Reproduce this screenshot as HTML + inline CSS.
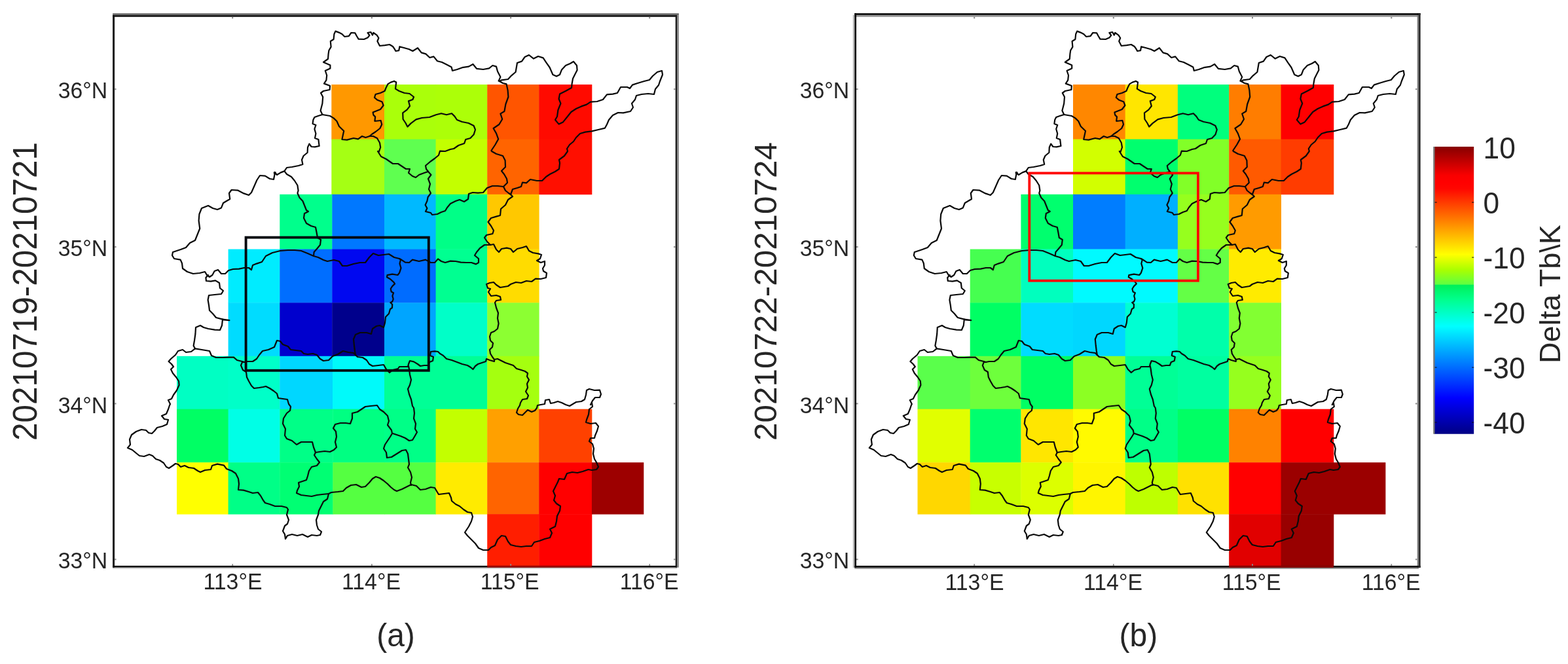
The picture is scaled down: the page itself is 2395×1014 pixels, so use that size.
<!DOCTYPE html>
<html lang="en">
<head>
<meta charset="utf-8">
<title>Delta Tb maps</title>
<style>
html,body{margin:0;padding:0;background:#fff;}
body{width:2395px;height:1014px;overflow:hidden;}
svg{display:block;filter:blur(0.45px);}
text{font-family:'Liberation Sans', Arial, Helvetica, sans-serif;fill:#262626;}
.bd{fill:none;stroke:#0a0a0a;stroke-width:2.2;stroke-linejoin:round;stroke-linecap:round;}
</style>
</head>
<body>
<svg width="2395" height="1014" viewBox="0 0 2395 1014">
<rect width="2395" height="1014" fill="#fff"/>
<defs>
<linearGradient id="cb" x1="0" y1="0" x2="0" y2="1">
<stop offset="0.0000" stop-color="#860000"/>
<stop offset="0.1003" stop-color="#fa0000"/>
<stop offset="0.1249" stop-color="#ff0000"/>
<stop offset="0.1459" stop-color="#ff0600"/>
<stop offset="0.3750" stop-color="#ffff00"/>
<stop offset="0.4285" stop-color="#aaff00"/>
<stop offset="0.4791" stop-color="#5fff41"/>
<stop offset="0.4819" stop-color="#00f058"/>
<stop offset="0.5311" stop-color="#00ff8c"/>
<stop offset="0.6250" stop-color="#00ffff"/>
<stop offset="0.8751" stop-color="#0000ff"/>
<stop offset="1.0000" stop-color="#000084"/>
</linearGradient>
<clipPath id="clipL"><rect x="173.5" y="23.5" width="860.5" height="842"/></clipPath>
<clipPath id="clipR"><rect x="1306.3" y="23.5" width="861" height="842"/></clipPath>
<g id="bnd" class="bd">
<path d="M373.0 409.0 L365.0 410.6 L356.0 411.0 L349.0 413.0 L344.0 418.0 L338.0 418.0 L333.0 412.0 L327.6 414.0 L324.4 420.0 L320.0 423.0 L316.0 420.0 L313.0 415.0 L305.0 417.0 L295.0 418.0 L286.0 415.0 L279.0 410.0 L278.0 402.0 L275.6 396.6 L266.0 395.0 L263.0 390.0 L264.0 385.0 L276.0 381.0 L284.0 378.0 L290.0 371.0 L298.0 367.0 L301.2 359.0 L305.2 349.0 L303.6 337.0 L304.4 327.0 L308.0 318.0 L318.0 314.0 L325.0 318.0 L332.0 320.0 L338.0 317.4 L341.0 310.0 L346.0 307.0 L351.2 304.0 L350.0 295.0 L353.6 290.0 L363.0 290.6 L372.4 295.4 L380.0 298.0 L384.0 294.0 L388.0 285.0 L392.4 275.0 L397.0 268.0 L405.0 268.6 L412.0 273.0 L418.0 274.0 L420.0 264.0 L423.0 267.0 L429.0 263.4 L434.4 261.4 L438.0 256.0 L446.0 255.0 L456.0 253.0 L462.4 251.0 L461.0 244.0 L463.6 238.0 L469.6 233.0 L470.0 225.0 L472.4 219.6 L475.6 224.0 L481.0 224.4 L487.6 223.0 L486.4 213.0 L481.0 211.0 L482.4 204.0 L480.4 197.0 L482.4 191.0 L477.6 189.0 L478.4 183.0 L480.4 179.0 L486.0 177.0 L492.4 175.0"/>
<path d="M492.4 175.0 L489.6 169.0 L492.4 158.0 L493.2 148.0 L490.0 142.0 L494.0 139.0 L503.6 137.0 L504.0 131.0 L495.0 127.6 L498.4 122.4 L499.2 115.0 L496.8 108.0 L504.4 104.4 L504.4 99.6 L494.0 95.0 L501.0 90.0 L501.6 82.4 L502.4 77.0 L505.6 71.6 L504.8 63.0 L509.6 60.0 L510.4 52.0 L512.4 47.6 L517.6 49.6 L522.4 52.0 L526.4 56.0 L532.8 55.2 L536.4 50.0 L542.4 50.4 L544.8 55.0 L547.6 59.6 L556.0 60.0 L561.6 57.6 L564.4 54.0 L561.6 50.0 L566.4 49.0 L569.0 53.6 L570.4 50.0 L575.6 53.6 L578.4 58.0 L576.4 63.0 L580.0 70.0 L588.0 69.2 L595.0 68.0 L600.0 71.0 L602.4 74.4 L604.4 78.0 L609.2 77.2 L610.4 71.2 L617.0 73.0 L625.0 75.2 L630.4 78.0 L638.0 73.2 L641.0 77.0 L643.6 80.4 L650.4 82.4 L656.4 88.0 L662.4 86.4 L668.0 93.2 L675.0 95.0 L683.0 99.0 L689.6 102.4 L691.0 108.0 L698.4 106.0 L706.0 103.2 L716.0 101.6 L722.4 98.0 L728.0 104.8 L738.0 106.0 L747.0 104.4 L752.4 100.0 L758.0 101.6 L760.0 109.0 L764.4 117.6 L761.6 123.6 L763.0 124.0"/>
<path d="M763.0 124.0 L766.0 122.4 L776.0 121.0 L781.0 115.6 L787.6 110.0 L790.0 96.0 L797.0 93.6 L801.6 87.0 L808.0 84.0 L815.0 89.6 L822.0 86.0 L829.6 88.4 L834.4 95.6 L839.6 103.0 L844.4 114.0 L850.0 116.4 L855.0 114.0 L858.0 106.4 L864.0 100.0 L871.0 97.0 L876.0 94.0 L881.0 100.0 L881.6 107.0 L878.0 114.0 L875.0 120.0 L873.6 128.0 L873.0 134.0 L864.0 139.0 L855.0 143.6 L853.6 151.0 L856.4 158.0 L852.4 168.0 L851.0 178.0 L848.0 183.0 L853.6 189.6 L860.0 186.4 L866.0 179.0 L872.4 171.0 L880.0 166.0 L888.0 162.4 L896.0 159.6 L902.0 155.6 L912.0 155.0 L921.0 152.0 L927.0 144.4 L936.0 143.6 L943.0 142.0 L948.0 133.0 L958.0 133.0 L962.0 135.0 L966.0 129.6 L974.0 127.0 L984.0 124.0 L992.0 122.0 L997.0 116.0 L1004.0 110.0 L1011.0 108.0 L1012.0 114.0 L1008.0 124.0 L1006.0 130.0 L1001.0 136.0 L999.0 144.0 L990.0 143.0 L980.0 144.0 L972.0 146.0 L970.0 152.0 L965.0 158.0 L967.0 164.0 L963.0 170.0 L952.0 172.4 L944.0 172.0 L936.0 176.0 L930.0 183.0 L927.0 190.0 L924.0 195.6 L914.0 198.0 L904.0 200.4 L894.0 201.6 L886.0 204.0 L880.0 210.0 L876.0 216.0 L870.0 221.0 L866.0 227.0 L867.0 231.0 L862.0 238.0 L854.0 244.0 L855.0 249.0 L854.0 258.0 L848.0 262.0 L840.0 266.0 L834.0 270.0 L828.0 276.0 L820.0 276.0 L810.0 274.0 L804.0 279.4 L798.0 278.6 L796.0 285.0 L790.0 287.0 L783.0 289.0 L780.0 297.0"/>
<path d="M763.0 124.0 L768.0 127.0 L773.6 128.4 L775.6 138.0 L776.4 148.0 L772.4 159.0 L770.4 170.0 L764.4 173.6 L767.2 182.0 L762.4 190.0 L753.6 196.0 L758.0 203.6 L761.2 212.4 L756.4 221.0 L750.4 230.0 L751.0 231.0 L758.0 235.0 L768.0 238.0 L771.6 245.0 L772.0 255.0 L766.0 261.0 L770.0 266.0 L774.0 273.0 L775.0 279.0 L770.0 284.0 L769.0 285.0"/>
<path d="M602.0 124.0 L597.0 125.6 L592.4 128.4 L589.6 134.0 L587.6 139.0 L581.0 142.0 L573.6 144.0 L572.0 149.0 L576.0 152.4 L583.6 155.6 L585.6 161.0 L581.0 167.0 L569.6 171.6 L570.4 175.6 L573.2 178.4 L572.4 185.0 L581.6 184.0 L583.2 190.0 L580.4 196.0 L574.0 201.0 L568.0 205.0 L564.4 208.0"/>
<path d="M602.0 124.0 L605.2 125.6 L604.0 135.6 L609.6 139.0 L617.6 142.0 L625.6 143.0 L632.0 148.0 L630.4 152.0 L624.0 154.4 L626.0 162.0 L621.6 167.6 L615.2 172.4 L615.6 182.0 L619.6 188.0 L622.4 193.6 L627.6 188.4 L635.6 182.4 L644.4 180.0 L656.0 179.0 L666.0 175.2 L674.0 173.2 L682.0 175.2 L690.0 173.2 L694.4 177.6 L698.0 183.0 L705.6 186.0 L715.6 188.0 L723.6 192.0 L726.0 198.0 L723.6 205.6 L718.4 211.0 L711.2 213.0 L709.2 219.0 L700.4 222.0 L693.2 227.0 L688.0 228.0 L680.0 231.0 L672.0 230.6 L670.0 237.0 L664.0 242.0 L657.0 247.0 L650.0 253.0 L651.0 258.0 L654.0 262.0"/>
<path d="M492.4 175.0 L504.0 177.0 L509.6 180.4 L514.4 185.0 L518.0 193.0 L525.2 200.0 L522.4 213.0 L530.0 213.6 L540.0 211.0 L547.0 212.4 L553.0 208.0 L558.4 210.0 L564.4 208.0 L570.0 208.0 L576.0 211.0 L580.0 218.0 L581.2 225.0 L578.4 232.8 L577.0 231.0 L582.0 239.0 L590.0 243.0 L600.0 250.0 L608.0 250.0 L614.0 254.0 L620.0 258.0 L626.0 258.0 L624.0 264.0 L630.0 269.0 L635.0 271.0 L640.0 267.0 L648.0 264.0 L654.0 262.0"/>
<path d="M654.0 262.0 L658.4 267.0 L654.0 273.0 L657.0 281.0 L655.0 289.0 L658.0 295.0 L653.6 301.0 L652.4 307.0 L649.6 313.0 L652.4 318.0 L650.0 323.0 L658.0 325.0 L660.0 328.0 L668.0 327.0 L674.0 324.0 L680.0 322.0 L683.0 317.0 L688.0 311.0 L696.0 307.0 L702.0 305.0 L709.0 308.0 L715.0 304.0 L716.0 296.0 L722.0 294.0 L730.0 294.6 L738.0 294.0 L744.0 287.0 L752.0 284.0 L760.0 284.0 L769.0 285.0 L772.0 291.0 L777.0 295.0 L780.0 297.0"/>
<path d="M780.0 297.0 L783.0 300.0 L776.0 305.0 L772.0 313.0 L765.0 319.0 L764.0 329.0 L758.0 330.6 L750.0 333.0 L745.6 339.0 L750.0 345.0 L754.0 352.0 L752.4 357.0 L743.0 359.0 L740.0 363.0 L744.0 369.0 L749.0 374.0"/>
<path d="M373.0 409.0 L380.0 409.0 L384.0 412.0 L386.0 405.0 L392.0 402.6 L400.0 400.0 L406.0 391.0 L416.0 386.0 L428.0 383.0 L440.0 382.0 L450.0 382.0 L460.0 383.0 L470.0 387.0 L479.0 391.0 L486.0 393.0 L494.0 397.0 L500.0 399.0 L510.0 397.0 L518.0 399.0 L523.0 406.0 L530.0 406.0 L540.0 403.0 L550.0 401.0 L558.0 401.0 L564.0 393.0 L570.0 387.0 L578.0 390.0 L586.0 389.0 L594.0 388.0 L602.0 393.0 L610.0 395.0 L612.0 396.0 L619.0 400.6 L625.0 401.0 L630.0 396.6 L640.0 399.0 L650.0 396.6 L658.0 401.0 L664.0 401.0 L669.0 395.4 L674.0 399.0 L680.0 401.0 L688.0 398.6 L696.0 399.0 L704.0 400.6 L712.0 401.0 L720.0 401.0 L727.0 403.4 L731.0 401.0 L731.0 395.0 L725.0 390.0 L728.0 385.0 L733.0 379.0 L740.0 374.0 L749.0 374.0"/>
<path d="M434.4 261.4 L438.0 266.0 L445.0 270.0 L450.0 276.0 L454.4 283.0 L455.6 291.0 L454.4 295.0 L457.6 302.0 L462.4 307.0 L465.6 315.0 L468.0 321.0 L471.0 323.0 L465.0 326.0 L464.0 333.0 L468.0 341.0 L475.0 345.0 L482.0 347.0 L483.6 355.0 L485.0 363.0 L490.0 366.0 L489.0 374.0 L484.0 380.0 L479.6 385.0 L479.0 391.0"/>
<path d="M749.0 374.0 L754.0 373.0 L758.0 381.0 L762.0 385.0 L766.0 380.0 L774.0 378.6 L780.0 380.0 L784.0 385.0 L790.0 380.0 L798.0 378.0 L804.0 376.0 L808.0 383.0 L814.0 386.0 L822.0 387.4 L827.0 389.0 L825.0 395.0 L820.0 398.0 L826.0 401.0 L832.0 399.0 L832.0 405.0 L829.0 410.0 L830.0 414.0 L835.0 417.0 L834.0 424.0 L826.0 426.0 L818.0 425.6 L812.0 430.0 L804.0 429.0 L796.0 432.0 L788.0 431.0 L780.0 434.0 L776.0 437.0 L770.0 438.0 L764.0 439.0 L758.0 435.0 L754.0 431.0 L748.0 432.0 L743.0 434.0 L745.0 440.0 L749.0 441.0 L746.0 446.0 L750.0 452.0 L758.0 451.0 L764.0 453.0 L765.0 458.0 L758.0 459.0 L756.0 462.0 L758.0 470.0 L761.0 478.0 L760.0 486.0 L761.6 494.0 L760.0 502.0 L755.0 506.0 L750.0 508.0 L748.0 514.0 L749.0 520.0 L753.0 524.0 L752.0 530.0 L748.0 534.0 L749.0 540.0 L752.0 545.0 L755.0 549.0"/>
<path d="M610.0 395.0 L612.0 396.6 L610.5 402.5 L612.5 409.4 L610.0 416.8 L607.5 420.0 L599.2 418.6 L591.5 420.2 L591.0 423.3 L596.2 426.2 L601.6 431.1 L603.0 433.4 L599.2 437.1 L596.7 441.0 L597.7 445.6 L601.1 447.2 L599.4 451.9 L600.7 456.8 L599.2 460.7 L596.4 462.0 L599.2 464.7 L599.0 470.0 L596.0 472.0 L594.0 479.0 L589.0 484.0 L588.0 493.0 L586.0 500.0 L580.0 497.0 L575.0 498.0 L569.0 502.0 L567.0 510.0 L560.0 508.0 L550.0 508.0 L543.0 511.0 L540.0 518.0 L541.0 528.0 L542.0 536.0 L543.0 542.0"/>
<path d="M316.0 420.0 L318.0 420.0 L314.4 424.0 L315.0 429.0 L322.0 429.6 L329.0 428.4 L335.0 432.0 L336.0 440.0 L341.0 444.0 L338.0 449.0 L328.0 450.0 L319.0 451.0 L317.6 458.0 L319.0 466.0 L320.0 474.0 L325.0 479.0 L330.0 485.0 L340.0 487.6 L339.0 497.0 L336.0 504.0 L328.0 503.6 L318.0 502.0 L311.0 500.0 L306.0 497.0 L299.0 500.0 L298.4 510.0 L297.0 520.0 L295.6 528.0 L298.0 532.4 L308.0 534.0 L320.0 536.0 L323.0 543.0 L330.0 546.0 L340.0 546.0 L350.0 545.6 L357.0 545.6 L362.0 550.0 L370.0 552.0 L373.0 553.0"/>
<path d="M340.0 487.6 L350.4 489.2 L350.4 489.2 L341.2 488.4"/>
<path d="M419.2 263.0 L421.2 265.0 L419.6 265.8 L418.8 263.8 L420.8 263.4"/>
<path d="M298.0 532.4 L292.0 537.0 L284.0 538.0 L279.0 534.0 L272.0 536.0 L268.0 542.0 L261.0 548.0 L257.6 552.0 L262.0 556.0 L265.0 560.0 L261.0 564.0 L264.0 570.0 L269.0 576.0 L273.0 582.0 L273.6 588.0 L270.0 596.0 L265.0 603.0 L262.0 609.0 L257.0 611.0 L260.0 617.0 L259.0 619.0 L257.0 625.0 L254.0 632.0 L247.0 635.0 L251.0 640.0 L257.0 641.0 L255.0 648.0 L248.0 651.0 L240.0 653.0 L236.0 658.0 L232.0 662.0 L227.0 661.0 L223.0 657.0 L216.0 656.0 L208.0 659.0 L201.0 664.0 L198.0 671.0 L199.0 679.0 L195.0 684.0 L202.0 687.0 L208.0 692.0 L213.0 696.0 L220.0 697.0 L228.0 694.0 L233.0 696.0 L238.0 701.0 L244.0 703.0 L250.0 707.0 L254.0 713.0 L258.0 715.0 L264.0 711.0 L268.0 708.0 L272.0 709.0 L276.0 713.0 L282.0 711.0 L288.0 714.0 L296.0 715.0 L302.0 719.0 L306.0 721.0 L313.0 718.0 L322.0 717.0 L324.0 711.0 L332.0 708.6 L342.0 710.6 L346.0 716.0 L354.0 719.0 L360.0 723.0 L364.0 731.0 L365.0 739.0 L364.0 748.0 L372.0 748.6 L380.0 751.0 L386.0 753.0 L394.0 752.0 L398.0 757.0 L402.0 764.0 L405.0 768.0 L412.0 770.0 L420.0 773.0 L430.0 773.0 L438.0 775.0 L440.0 778.0 L438.0 786.0 L441.0 794.0 L439.0 800.0 L435.0 803.0 L432.0 811.0 L435.0 816.0 L436.0 823.0 L439.0 818.0 L446.0 816.0 L454.0 818.0 L462.0 816.0 L470.0 820.0 L476.0 817.0 L484.0 818.0 L489.0 817.0 L491.0 812.0 L486.0 808.0 L484.0 802.0 L483.0 794.0 L486.0 786.0 L487.0 780.0 L491.0 772.0 L494.0 766.0 L500.0 762.0 L502.0 754.0"/>
<path d="M373.0 553.0 L370.0 553.0 L368.0 558.0 L371.0 565.0 L376.0 568.0 L377.0 576.0 L380.0 582.0 L384.0 589.0 L388.0 593.0 L396.0 592.0 L402.0 591.0 L406.0 590.0 L412.0 593.0 L418.0 597.0 L423.0 601.0 L425.0 608.0 L432.0 609.0 L439.0 610.0 L441.0 617.0 L444.0 621.0 L443.0 627.0 L438.0 631.0 L433.0 639.0 L432.0 647.0 L436.0 655.0 L435.0 665.0 L438.0 670.0 L446.0 673.0 L453.0 679.0 L460.0 675.0 L470.0 675.0 L477.0 675.0 L479.0 683.0 L482.0 691.0"/>
<path d="M373.0 553.0 L378.0 552.0 L386.0 552.0 L392.0 548.0 L396.0 542.0 L401.0 536.0 L410.0 534.0 L419.0 530.0 L423.0 520.0 L428.0 521.0 L432.0 526.0 L440.0 529.0 L444.0 534.0 L452.0 535.0 L460.0 536.0 L464.0 540.0 L470.0 541.0 L478.0 540.0 L484.0 542.0 L489.0 548.0 L494.0 551.0 L502.0 550.0 L508.0 544.0 L516.0 541.0 L524.0 536.0 L532.0 538.0 L540.0 539.0 L543.0 542.0"/>
<path d="M543.0 542.0 L546.0 545.0 L554.0 546.0 L560.0 550.0 L564.0 556.0 L569.0 559.0 L578.0 558.0 L586.0 557.0 L590.0 564.0 L595.0 569.0 L600.0 565.0 L608.0 563.0 L610.0 560.0 L616.0 560.0 L623.0 560.0 L624.0 556.0 L626.0 551.0 L632.0 552.4 L638.0 556.0 L642.0 559.0 L648.0 558.0 L654.0 558.0 L656.0 553.0 L661.0 551.0 L662.0 545.0 L657.0 543.0 L658.0 537.0 L664.0 536.4 L669.0 537.0 L672.0 540.0 L677.0 543.0 L682.0 548.0 L690.0 550.0 L698.0 553.0 L706.0 556.0 L714.0 558.0 L719.0 561.0 L722.4 564.0 L726.0 559.0 L730.0 556.0 L736.0 554.0 L742.0 552.0 L743.0 548.0 L748.0 550.0 L755.0 552.0 L755.0 549.0"/>
<path d="M624.0 559.0 L625.0 564.0 L626.0 572.0 L628.0 580.0 L626.0 588.0 L623.0 594.0 L625.0 602.0 L628.0 610.0 L630.0 620.0 L632.0 623.0 L633.0 631.0 L632.0 639.0 L635.0 647.0 L634.0 655.0 L637.0 660.0 L633.0 667.0 L630.0 672.0 L625.0 673.0 L619.0 669.0 L612.0 666.0 L606.0 664.0 L600.0 662.0 L599.0 662.0"/>
<path d="M482.0 691.0 L488.0 690.0 L496.0 689.0 L504.0 690.0 L510.0 687.0 L514.0 683.0 L512.0 675.0 L514.0 667.0 L513.0 659.0 L509.0 654.0 L512.0 648.0 L520.0 646.0 L528.0 646.0 L535.0 647.0 L538.0 639.0 L538.0 631.0 L546.0 629.0 L552.0 625.0 L558.0 621.0 L566.0 620.0 L576.0 619.0 L580.0 625.0 L586.0 629.0 L592.0 635.0 L594.0 643.0 L592.0 649.0 L598.0 657.0 L599.0 662.0 L596.0 667.0 L592.0 673.0 L588.0 679.0 L586.0 685.0 L590.0 691.0 L591.0 699.0 L598.0 698.0 L606.0 693.0 L614.0 688.0 L620.0 687.0 L623.0 693.0 L624.0 701.0 L625.0 709.0 L623.0 714.0 L627.0 721.0 L629.0 729.0 L627.0 737.0 L628.0 741.0"/>
<path d="M482.0 691.0 L480.0 695.0 L484.0 701.0 L488.0 706.0 L484.0 711.0 L476.0 713.0 L472.0 719.0 L470.0 727.0 L468.0 733.0 L462.0 735.0 L456.0 737.0 L457.0 743.0 L454.0 749.0 L453.0 753.0 L460.0 756.0 L468.0 757.0 L476.0 758.0 L484.0 756.0 L492.0 755.0 L502.0 754.0"/>
<path d="M502.0 754.0 L506.0 752.0 L516.0 751.0 L524.0 750.0 L529.0 745.0 L536.0 741.0 L544.0 740.0 L552.0 744.0 L558.0 743.0 L564.0 737.0 L569.0 731.0 L574.0 728.0 L580.0 730.0 L586.0 734.0 L592.0 739.0 L597.0 744.0 L602.0 748.0 L606.0 750.0 L614.0 747.0 L622.0 743.0 L628.0 740.0 L636.0 742.0 L642.0 748.0 L650.0 747.0 L658.0 744.0 L664.0 745.0 L667.0 750.0 L670.0 755.0 L678.0 754.0 L686.0 753.0 L689.0 760.0 L690.0 765.0 L696.0 770.0 L702.0 773.0 L708.0 778.0 L714.0 782.0 L720.0 783.0 L722.0 789.0 L720.0 796.0 L716.0 804.0 L712.0 810.0 L710.0 813.0 L714.0 818.0 L720.0 824.0 L726.0 830.0 L731.0 837.0 L738.0 840.0 L746.0 840.0 L750.0 836.0 L756.0 833.0 L760.0 824.0 L766.0 818.0 L772.0 819.0 L776.0 827.0 L780.0 832.0 L788.0 834.0 L796.0 835.0 L804.0 834.0 L812.0 834.0 L816.0 828.0 L824.0 826.0 L832.0 823.0 L840.0 821.0 L843.0 814.0 L840.0 808.0 L848.0 804.0 L850.0 796.0 L851.0 788.0 L855.0 780.0 L856.0 773.0 L850.0 769.0 L846.0 764.0 L848.0 757.0 L845.0 750.0 L848.0 744.0 L852.0 736.0 L854.0 731.0 L862.0 732.0 L866.0 723.0 L874.0 721.0 L882.0 722.0 L890.0 720.0 L898.6 717.0 L904.0 718.0 L911.0 717.0 L914.0 713.0 L911.0 706.0 L908.0 701.0 L906.0 693.0 L907.0 685.0 L905.0 678.0 L900.0 674.0 L902.0 669.0 L908.0 669.0 L909.0 665.0 L912.0 658.0 L914.0 651.0 L910.0 646.0 L902.0 647.0 L895.0 645.0 L896.0 641.0 L899.0 633.0 L900.0 625.0 L905.0 621.0 L904.0 615.0 L902.0 618.0 L905.0 612.0 L909.0 607.0 L916.0 607.0 L918.0 602.0 L916.0 595.6 L908.0 596.0 L900.0 594.0 L896.0 596.0 L895.0 603.0 L893.0 610.0 L888.0 613.0 L880.0 614.0 L875.0 617.0 L870.0 620.0 L864.0 618.0 L858.0 615.0 L852.0 613.0 L846.0 615.0 L841.0 616.0 L839.0 610.0 L833.0 611.0 L832.0 617.0 L826.0 618.0 L821.0 619.0 L820.0 623.0 L817.0 627.0 L812.0 629.0 L806.0 626.0 L802.0 630.0 L798.0 634.0 L792.0 633.0 L789.0 630.0 L791.0 624.0 L794.0 619.0 L795.0 615.0 L798.0 610.0 L805.0 609.0 L807.0 604.0 L803.0 598.0 L806.0 592.0 L805.0 586.0 L808.0 580.0 L805.0 575.0 L806.0 570.0 L802.0 567.0 L796.0 565.0 L789.0 563.0 L784.0 558.0 L778.0 556.0 L772.0 554.0 L766.0 551.0 L760.0 548.0 L755.0 549.0"/>
</g>
</defs>
<g id="panel-a">
<g clip-path="url(#clipL)">
<rect x="506.3" y="129.1" width="81.1" height="83.9" fill="#ff9800"/>
<rect x="587.0" y="129.1" width="79.0" height="83.9" fill="#aaff0a"/>
<rect x="665.6" y="129.1" width="79.0" height="83.9" fill="#acff08"/>
<rect x="744.2" y="129.1" width="79.4" height="83.9" fill="#ff5500"/>
<rect x="823.2" y="129.1" width="81.1" height="83.9" fill="#ff0a00"/>
<rect x="506.3" y="212.6" width="81.1" height="84.6" fill="#a5ff14"/>
<rect x="587.0" y="212.6" width="79.0" height="84.6" fill="#5fff50"/>
<rect x="665.6" y="212.6" width="79.0" height="84.6" fill="#c3ff00"/>
<rect x="744.2" y="212.6" width="79.4" height="84.6" fill="#ff6400"/>
<rect x="823.2" y="212.6" width="81.1" height="84.6" fill="#ff0f00"/>
<rect x="427.3" y="296.8" width="80.4" height="84.1" fill="#00ff8c"/>
<rect x="507.3" y="296.8" width="80.1" height="84.1" fill="#0078ff"/>
<rect x="587.0" y="296.8" width="79.0" height="84.1" fill="#00b9ff"/>
<rect x="665.6" y="296.8" width="79.0" height="84.1" fill="#00ff87"/>
<rect x="744.2" y="296.8" width="79.4" height="84.1" fill="#ffc800"/>
<rect x="348.6" y="380.5" width="79.1" height="82.2" fill="#00ecff"/>
<rect x="427.3" y="380.5" width="80.4" height="82.2" fill="#006eff"/>
<rect x="507.3" y="380.5" width="80.1" height="82.2" fill="#0008f0"/>
<rect x="587.0" y="380.5" width="79.0" height="82.2" fill="#006cff"/>
<rect x="665.6" y="380.5" width="79.0" height="82.2" fill="#00ff91"/>
<rect x="744.2" y="380.5" width="79.4" height="82.2" fill="#ffdc00"/>
<rect x="348.6" y="462.3" width="79.1" height="81.9" fill="#00dcff"/>
<rect x="427.3" y="462.3" width="80.4" height="81.9" fill="#0000cd"/>
<rect x="507.3" y="462.3" width="80.1" height="81.9" fill="#00008c"/>
<rect x="587.0" y="462.3" width="79.0" height="81.9" fill="#00a5ff"/>
<rect x="665.6" y="462.3" width="79.0" height="81.9" fill="#00ffc8"/>
<rect x="744.2" y="462.3" width="79.4" height="81.9" fill="#8cff32"/>
<rect x="270.0" y="543.8" width="79.0" height="81.3" fill="#00ffc3"/>
<rect x="348.6" y="543.8" width="79.1" height="81.3" fill="#00ffc8"/>
<rect x="427.3" y="543.8" width="81.1" height="81.3" fill="#00d7ff"/>
<rect x="508.0" y="543.8" width="79.4" height="81.3" fill="#00fafa"/>
<rect x="587.0" y="543.8" width="79.0" height="81.3" fill="#00ff96"/>
<rect x="665.6" y="543.8" width="79.0" height="81.3" fill="#00ff96"/>
<rect x="744.2" y="543.8" width="79.4" height="81.3" fill="#a5ff0f"/>
<rect x="270.0" y="624.7" width="79.0" height="81.9" fill="#00ff64"/>
<rect x="348.6" y="624.7" width="79.1" height="81.9" fill="#00ffe6"/>
<rect x="427.3" y="624.7" width="81.3" height="81.9" fill="#00ff87"/>
<rect x="508.2" y="624.7" width="79.2" height="81.9" fill="#00ff82"/>
<rect x="587.0" y="624.7" width="79.0" height="81.9" fill="#00ff87"/>
<rect x="665.6" y="624.7" width="79.0" height="81.9" fill="#c3ff00"/>
<rect x="744.2" y="624.7" width="79.4" height="81.9" fill="#ffa000"/>
<rect x="823.2" y="624.7" width="81.1" height="81.9" fill="#ff4100"/>
<rect x="270.0" y="706.2" width="79.0" height="79.3" fill="#ffff00"/>
<rect x="348.6" y="706.2" width="79.1" height="79.3" fill="#00ff87"/>
<rect x="427.3" y="706.2" width="81.5" height="79.3" fill="#00ff73"/>
<rect x="508.4" y="706.2" width="79.0" height="79.3" fill="#55ff41"/>
<rect x="587.0" y="706.2" width="79.0" height="79.3" fill="#55ff41"/>
<rect x="665.6" y="706.2" width="79.0" height="79.3" fill="#ffeb00"/>
<rect x="744.2" y="706.2" width="79.4" height="79.3" fill="#ff6400"/>
<rect x="823.2" y="706.2" width="81.1" height="79.3" fill="#ff0000"/>
<rect x="903.9" y="706.2" width="79.4" height="79.3" fill="#9d0000"/>
<rect x="744.2" y="785.1" width="79.4" height="81.9" fill="#ff1e00"/>
<rect x="823.2" y="785.1" width="81.1" height="81.9" fill="#ff0000"/>
<use href="#bnd"/>
</g>
<rect x="375.6" y="362.6" width="279.2" height="203.2" fill="none" stroke="#04080e" stroke-width="3.9"/>
<rect x="172.10" y="20.30" width="864.80" height="2.80" fill="#6a6a6a"/>
<rect x="1034.10" y="23.10" width="2.80" height="843.50" fill="#8a8a8a"/>
<rect x="172.10" y="866.60" width="862.00" height="2.10" fill="#cfcfcf"/>
<rect x="174.90" y="25.80" width="1.10" height="838.10" fill="#dedede"/>
<rect x="172.10" y="23.10" width="862.00" height="2.70" fill="#141414"/>
<rect x="172.10" y="863.90" width="862.00" height="2.70" fill="#050505"/>
<rect x="172.10" y="23.10" width="2.80" height="843.50" fill="#0a0a0a"/>
<rect x="1031.70" y="23.10" width="2.40" height="843.50" fill="#1c1c1c"/>
<rect x="354.20" y="861.30" width="2.00" height="2.60" fill="#8a8a8a"/>
<rect x="354.20" y="25.80" width="2.00" height="2.60" fill="#8a8a8a"/>
<rect x="566.90" y="861.30" width="2.00" height="2.60" fill="#8a8a8a"/>
<rect x="566.90" y="25.80" width="2.00" height="2.60" fill="#8a8a8a"/>
<rect x="779.10" y="861.30" width="2.00" height="2.60" fill="#8a8a8a"/>
<rect x="779.10" y="25.80" width="2.00" height="2.60" fill="#8a8a8a"/>
<rect x="991.20" y="861.30" width="2.00" height="2.60" fill="#8a8a8a"/>
<rect x="991.20" y="25.80" width="2.00" height="2.60" fill="#8a8a8a"/>
<rect x="174.90" y="135.20" width="2.60" height="2.00" fill="#8a8a8a"/>
<rect x="1029.10" y="135.20" width="2.60" height="2.00" fill="#8a8a8a"/>
<rect x="174.90" y="376.10" width="2.60" height="2.00" fill="#8a8a8a"/>
<rect x="1029.10" y="376.10" width="2.60" height="2.00" fill="#8a8a8a"/>
<rect x="174.90" y="615.40" width="2.60" height="2.00" fill="#8a8a8a"/>
<rect x="1029.10" y="615.40" width="2.60" height="2.00" fill="#8a8a8a"/>
<rect x="174.90" y="853.30" width="2.60" height="2.00" fill="#8a8a8a"/>
<rect x="1029.10" y="853.30" width="2.60" height="2.00" fill="#8a8a8a"/>
<rect x="744.20" y="863.90" width="159.70" height="2.70" fill="#9c0500"/>
</g>
<g id="panel-b">
<g clip-path="url(#clipR)">
<rect x="1639.0" y="129.1" width="80.1" height="83.9" fill="#ff8700"/>
<rect x="1718.7" y="129.1" width="80.6" height="83.9" fill="#ffe600"/>
<rect x="1798.9" y="129.1" width="78.7" height="83.9" fill="#00ff7d"/>
<rect x="1877.2" y="129.1" width="79.8" height="83.9" fill="#ff7d00"/>
<rect x="1956.6" y="129.1" width="80.7" height="83.9" fill="#ff0000"/>
<rect x="1639.0" y="212.6" width="80.1" height="84.6" fill="#d2ff00"/>
<rect x="1718.7" y="212.6" width="80.6" height="84.6" fill="#00ff6e"/>
<rect x="1798.9" y="212.6" width="78.7" height="84.6" fill="#82ff28"/>
<rect x="1877.2" y="212.6" width="79.8" height="84.6" fill="#ff5a00"/>
<rect x="1956.6" y="212.6" width="80.7" height="84.6" fill="#ff3c00"/>
<rect x="1559.4" y="296.8" width="80.0" height="84.1" fill="#00ff6e"/>
<rect x="1639.0" y="296.8" width="80.1" height="84.1" fill="#007dff"/>
<rect x="1718.7" y="296.8" width="80.6" height="84.1" fill="#00afff"/>
<rect x="1798.9" y="296.8" width="78.7" height="84.1" fill="#96ff1e"/>
<rect x="1877.2" y="296.8" width="79.8" height="84.1" fill="#ff9b00"/>
<rect x="1481.7" y="380.5" width="78.1" height="82.2" fill="#46ff50"/>
<rect x="1559.4" y="380.5" width="80.0" height="82.2" fill="#00ffbe"/>
<rect x="1639.0" y="380.5" width="80.1" height="82.2" fill="#00faff"/>
<rect x="1718.7" y="380.5" width="80.6" height="82.2" fill="#00faff"/>
<rect x="1798.9" y="380.5" width="78.7" height="82.2" fill="#64ff46"/>
<rect x="1877.2" y="380.5" width="79.8" height="82.2" fill="#ffeb00"/>
<rect x="1481.7" y="462.3" width="78.1" height="81.9" fill="#00ff64"/>
<rect x="1559.4" y="462.3" width="80.0" height="81.9" fill="#00dcff"/>
<rect x="1639.0" y="462.3" width="80.1" height="81.9" fill="#00d7ff"/>
<rect x="1718.7" y="462.3" width="80.6" height="81.9" fill="#00ffd2"/>
<rect x="1798.9" y="462.3" width="78.7" height="81.9" fill="#00ffaa"/>
<rect x="1877.2" y="462.3" width="79.8" height="81.9" fill="#82ff32"/>
<rect x="1401.5" y="543.8" width="80.6" height="81.3" fill="#5aff4b"/>
<rect x="1481.7" y="543.8" width="78.1" height="81.3" fill="#6eff3c"/>
<rect x="1559.4" y="543.8" width="80.0" height="81.3" fill="#00ff64"/>
<rect x="1639.0" y="543.8" width="80.1" height="81.3" fill="#8cff23"/>
<rect x="1718.7" y="543.8" width="80.6" height="81.3" fill="#00ff96"/>
<rect x="1798.9" y="543.8" width="78.7" height="81.3" fill="#00ffa0"/>
<rect x="1877.2" y="543.8" width="79.8" height="81.3" fill="#96ff1e"/>
<rect x="1401.5" y="624.7" width="80.6" height="81.9" fill="#e1ff00"/>
<rect x="1481.7" y="624.7" width="78.1" height="81.9" fill="#00ff6e"/>
<rect x="1559.4" y="624.7" width="80.0" height="81.9" fill="#ffe600"/>
<rect x="1639.0" y="624.7" width="80.1" height="81.9" fill="#fffa00"/>
<rect x="1718.7" y="624.7" width="80.6" height="81.9" fill="#00ff87"/>
<rect x="1798.9" y="624.7" width="78.7" height="81.9" fill="#00ff64"/>
<rect x="1877.2" y="624.7" width="79.8" height="81.9" fill="#ff8200"/>
<rect x="1956.6" y="624.7" width="80.7" height="81.9" fill="#ff0000"/>
<rect x="1401.5" y="706.2" width="80.6" height="79.3" fill="#ffd700"/>
<rect x="1481.7" y="706.2" width="78.1" height="79.3" fill="#c8ff00"/>
<rect x="1559.4" y="706.2" width="80.0" height="79.3" fill="#dcff00"/>
<rect x="1639.0" y="706.2" width="80.1" height="79.3" fill="#fff500"/>
<rect x="1718.7" y="706.2" width="80.6" height="79.3" fill="#beff00"/>
<rect x="1798.9" y="706.2" width="78.7" height="79.3" fill="#ffe100"/>
<rect x="1877.2" y="706.2" width="79.8" height="79.3" fill="#ff0000"/>
<rect x="1956.6" y="706.2" width="80.7" height="79.3" fill="#9b0000"/>
<rect x="2036.9" y="706.2" width="79.5" height="79.3" fill="#9b0000"/>
<rect x="1877.2" y="785.1" width="79.8" height="81.9" fill="#e10000"/>
<rect x="1956.6" y="785.1" width="80.7" height="81.9" fill="#980000"/>
<use href="#bnd" transform="translate(1132.8 0)"/>
</g>
<rect x="1572.3" y="264.4" width="257.6" height="164.3" fill="none" stroke="#ff0000" stroke-width="3.8"/>
<rect x="1302.80" y="22.90" width="2.50" height="843.90" fill="#b8b8b8"/>
<rect x="1305.30" y="22.90" width="861.70" height="2.90" fill="#959595"/>
<rect x="1305.30" y="866.80" width="861.70" height="1.90" fill="#8c8c8c"/>
<rect x="2164.70" y="20.20" width="2.10" height="846.60" fill="#7c7c7c"/>
<rect x="1305.30" y="20.20" width="864.50" height="2.70" fill="#0a0a0a"/>
<rect x="1305.30" y="863.90" width="864.50" height="2.90" fill="#0f0f0f"/>
<rect x="1305.30" y="20.20" width="2.70" height="846.60" fill="#0a0a0a"/>
<rect x="2166.80" y="20.20" width="2.90" height="846.60" fill="#2c2c2c"/>
<rect x="1487.20" y="861.30" width="2.00" height="2.60" fill="#8a8a8a"/>
<rect x="1487.20" y="25.80" width="2.00" height="2.60" fill="#8a8a8a"/>
<rect x="1699.80" y="861.30" width="2.00" height="2.60" fill="#8a8a8a"/>
<rect x="1699.80" y="25.80" width="2.00" height="2.60" fill="#8a8a8a"/>
<rect x="1912.00" y="861.30" width="2.00" height="2.60" fill="#8a8a8a"/>
<rect x="1912.00" y="25.80" width="2.00" height="2.60" fill="#8a8a8a"/>
<rect x="2124.30" y="861.30" width="2.00" height="2.60" fill="#8a8a8a"/>
<rect x="2124.30" y="25.80" width="2.00" height="2.60" fill="#8a8a8a"/>
<rect x="1308.00" y="135.20" width="2.60" height="2.00" fill="#8a8a8a"/>
<rect x="2162.00" y="135.20" width="2.60" height="2.00" fill="#8a8a8a"/>
<rect x="1308.00" y="376.10" width="2.60" height="2.00" fill="#8a8a8a"/>
<rect x="2162.00" y="376.10" width="2.60" height="2.00" fill="#8a8a8a"/>
<rect x="1308.00" y="615.40" width="2.60" height="2.00" fill="#8a8a8a"/>
<rect x="2162.00" y="615.40" width="2.60" height="2.00" fill="#8a8a8a"/>
<rect x="1308.00" y="853.30" width="2.60" height="2.00" fill="#8a8a8a"/>
<rect x="2162.00" y="853.30" width="2.60" height="2.00" fill="#8a8a8a"/>
<rect x="1877.20" y="863.90" width="159.70" height="2.90" fill="#8a0400"/>
</g>
<g id="ticklabels">
<text transform="translate(164.20 150.30) scale(1.0000 1.0300)" font-size="33.8" text-anchor="end">36°N</text>
<text transform="translate(164.20 391.20) scale(1.0000 1.0300)" font-size="33.8" text-anchor="end">35°N</text>
<text transform="translate(164.20 630.50) scale(1.0000 1.0300)" font-size="33.8" text-anchor="end">34°N</text>
<text transform="translate(164.20 868.40) scale(1.0000 1.0300)" font-size="33.8" text-anchor="end">33°N</text>
<text transform="translate(355.50 900.40) scale(1.0000 1.0300)" font-size="33.8" text-anchor="middle">113°E</text>
<text transform="translate(567.00 900.40) scale(1.0000 1.0300)" font-size="33.8" text-anchor="middle">114°E</text>
<text transform="translate(778.70 900.40) scale(1.0000 1.0300)" font-size="33.8" text-anchor="middle">115°E</text>
<text transform="translate(991.70 900.40) scale(1.0000 1.0300)" font-size="33.8" text-anchor="middle">116°E</text>
<text transform="translate(1297.20 150.30) scale(1.0000 1.0300)" font-size="33.8" text-anchor="end">36°N</text>
<text transform="translate(1297.20 391.20) scale(1.0000 1.0300)" font-size="33.8" text-anchor="end">35°N</text>
<text transform="translate(1297.20 630.50) scale(1.0000 1.0300)" font-size="33.8" text-anchor="end">34°N</text>
<text transform="translate(1297.20 868.40) scale(1.0000 1.0300)" font-size="33.8" text-anchor="end">33°N</text>
<text transform="translate(1488.50 901.40) scale(1.0000 1.0300)" font-size="33.8" text-anchor="middle">113°E</text>
<text transform="translate(1700.00 901.40) scale(1.0000 1.0300)" font-size="33.8" text-anchor="middle">114°E</text>
<text transform="translate(1911.70 901.40) scale(1.0000 1.0300)" font-size="33.8" text-anchor="middle">115°E</text>
<text transform="translate(2124.70 901.40) scale(1.0000 1.0300)" font-size="33.8" text-anchor="middle">116°E</text>
</g>
<text transform="translate(55.60 445.00) rotate(-90) scale(1.0000 1.0500)" font-size="49.4" text-anchor="middle">20210719-20210721</text>
<text transform="translate(1186.40 445.00) rotate(-90) scale(1.0000 0.9800)" font-size="49.4" text-anchor="middle">20210722-20210724</text>
<text transform="translate(604.50 987.30) scale(0.9700 1.0000)" font-size="49.5" text-anchor="middle">(a)</text>
<text transform="translate(1738.80 987.30) scale(0.9700 1.0000)" font-size="49.5" text-anchor="middle">(b)</text>
<g id="colorbar">
<rect x="2190.6" y="224" width="60.6" height="438.7" fill="url(#cb)"/>
<rect x="2189.2" y="224" width="2.4" height="438.7" fill="#777"/>
<text transform="translate(2265.60 241.60) scale(1.0000 1.0400)" font-size="44.3" text-anchor="start">10</text>
<path d="M2191.6 309.0h3M2251.2 309.0h-3" stroke="#111" stroke-opacity="0.6" stroke-width="1.8"/>
<text transform="translate(2265.60 325.60) scale(1.0000 1.0400)" font-size="44.3" text-anchor="start">0</text>
<path d="M2191.6 393.1h3M2251.2 393.1h-3" stroke="#111" stroke-opacity="0.6" stroke-width="1.8"/>
<text transform="translate(2265.60 409.65) scale(1.0000 1.0400)" font-size="44.3" text-anchor="start">-10</text>
<path d="M2191.6 477.1h3M2251.2 477.1h-3" stroke="#111" stroke-opacity="0.6" stroke-width="1.8"/>
<text transform="translate(2265.60 493.70) scale(1.0000 1.0400)" font-size="44.3" text-anchor="start">-20</text>
<path d="M2191.6 561.1h3M2251.2 561.1h-3" stroke="#111" stroke-opacity="0.6" stroke-width="1.8"/>
<text transform="translate(2265.60 577.75) scale(1.0000 1.0400)" font-size="44.3" text-anchor="start">-30</text>
<path d="M2191.6 645.2h3M2251.2 645.2h-3" stroke="#111" stroke-opacity="0.6" stroke-width="1.8"/>
<text transform="translate(2265.60 661.80) scale(1.0000 1.0400)" font-size="44.3" text-anchor="start">-40</text>
<text transform="translate(2383.40 449.00) rotate(-90)" font-size="45" text-anchor="middle">Delta Tb\K</text>
</g>
</svg>
</body>
</html>
